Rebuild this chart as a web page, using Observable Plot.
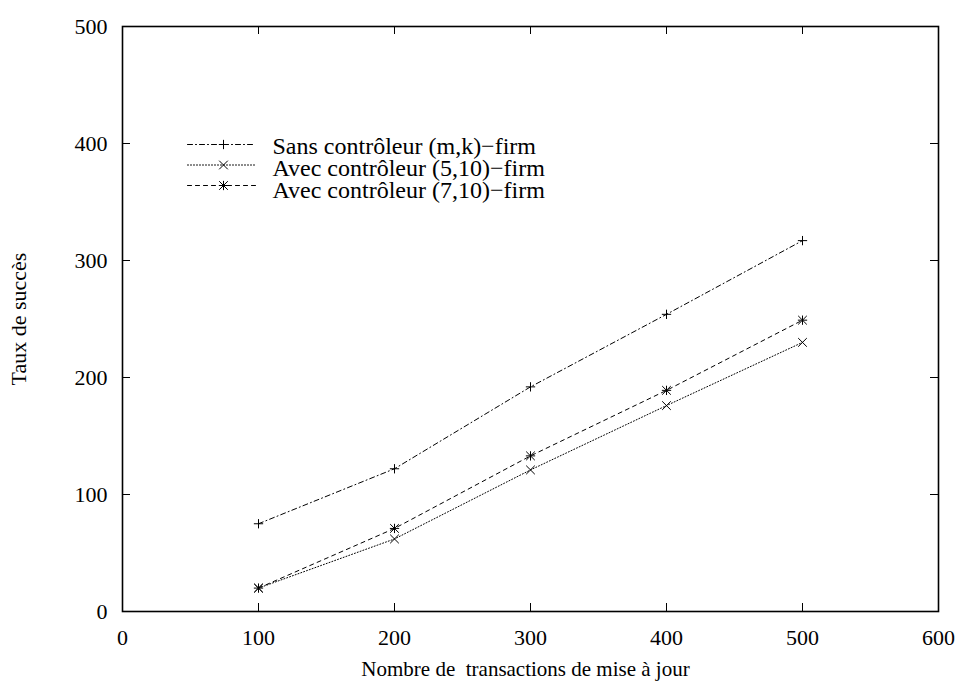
<!DOCTYPE html>
<html>
<head>
<meta charset="utf-8">
<script src="https://cdn.jsdelivr.net/npm/d3@7"></script>
<script src="https://cdn.jsdelivr.net/npm/@observablehq/plot@0.6"></script>
<style>
  html, body { margin: 0; padding: 0; background: #fff; }
</style>
</head>
<body>
<div id="chart"></div>
<script>
const xTicks = [0, 100, 200, 300, 400, 500, 600];
const yTicks = [0, 100, 200, 300, 400, 500];
const xValues = [100, 200, 300, 400, 500];
const seriesNames = [
  "Sans contrôleur (m,k)−firm",
  "Avec contrôleur (5,10)−firm",
  "Avec contrôleur (7,10)−firm"
];
const sansValues = [75, 122, 192, 254, 317];
const avec510Values = [20, 62, 121, 176, 230];
const avec710Values = [20, 71, 133, 189, 249];
const xLabel = "Nombre de\u00a0 transactions de mise à jour";
const yLabel = "Taux de succès";

const seriesValues = [sansValues, avec510Values, avec710Values];
const rows = seriesNames.flatMap((name, i) =>
  xValues.map((x, j) => ({series: name, x, y: seriesValues[i][j]}))
);

const width = 960, height = 684;
const marginLeft = 122, marginRight = 22, marginTop = 26, marginBottom = 73;
const innerW = width - marginLeft - marginRight;
const innerH = height - marginTop - marginBottom;
const tickLen = 8;

const dashes = ["5,3,1,3", "1,2", "4,4"];
const symbols = [["plus"], ["times"], ["plus", "times"]];
const symbolR = {plus: 3.1, times: 4};

const lineShape = {draw(context, l) { context.moveTo(0, 0); context.lineTo(l, 0); }};

const marks = [];
// inward ticks on all four sides
marks.push(Plot.ruleX(xTicks.slice(1, -1), {x: d => d, insetTop: innerH - tickLen, stroke: "black", strokeWidth: 1}));
marks.push(Plot.ruleX(xTicks.slice(1, -1), {x: d => d, insetBottom: innerH - tickLen, stroke: "black", strokeWidth: 1}));
marks.push(Plot.ruleY(yTicks.slice(1, -1), {y: d => d, insetRight: innerW - tickLen, stroke: "black", strokeWidth: 1}));
marks.push(Plot.ruleY(yTicks.slice(1, -1), {y: d => d, insetLeft: innerW - tickLen, stroke: "black", strokeWidth: 1}));
marks.push(Plot.frame({stroke: "black", strokeWidth: 1.6}));

marks.push(Plot.axisX({ticks: xTicks, tickSize: 0, tickPadding: 18, label: null}));
marks.push(Plot.text([xLabel], {text: d => d, frameAnchor: "bottom", dx: -5, dy: 58, lineAnchor: "middle", textAnchor: "middle", fontSize: 21, fill: "black"}));
marks.push(Plot.axisY({ticks: yTicks, tickSize: 0, tickPadding: 15, label: yLabel, labelAnchor: "center", labelOffset: 112, labelArrow: "none"}));

seriesNames.forEach((name, i) => {
  const data = rows.filter(d => d.series === name);
  marks.push(Plot.line(data, {x: "x", y: "y", stroke: "black", strokeWidth: 1, strokeDasharray: dashes[i]}));
  symbols[i].forEach(s => {
    marks.push(Plot.dot(data, {x: "x", y: "y", symbol: s, r: symbolR[s], stroke: "black", strokeWidth: 1}));
  });
  // legend
  const rowY = 118 + 20.5 * i;
  marks.push(Plot.vector([name], {frameAnchor: "top-left", dx: 65, dy: rowY, length: 68, anchor: "start", shape: lineShape, stroke: "black", strokeWidth: 1, strokeDasharray: dashes[i]}));
  symbols[i].forEach(s => {
    marks.push(Plot.dot([name], {frameAnchor: "top-left", dx: 101, dy: rowY, symbol: s, r: symbolR[s], stroke: "black", strokeWidth: 1}));
  });
  marks.push(Plot.text([name], {text: d => d, frameAnchor: "top-left", dx: 150, dy: rowY + 1.5 * (i + 1), textAnchor: "start", lineAnchor: "middle", fontSize: 24, fill: "black"}));
});

const chart = Plot.plot({
  width, height, marginLeft, marginRight, marginTop, marginBottom,
  style: {fontFamily: "'Liberation Serif', serif", fontSize: "22px", color: "black", background: "white"},
  x: {domain: [0, 600]},
  y: {domain: [0, 500]},
  marks
});
document.getElementById("chart").appendChild(chart);
</script>
</body>
</html>
